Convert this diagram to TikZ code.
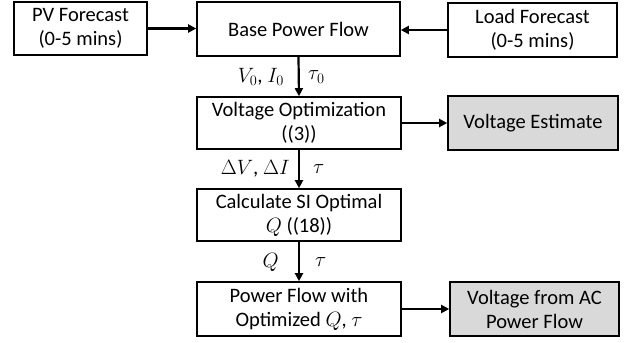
\documentclass[tikz,border=0pt]{standalone}
\usepackage{fontspec}
\setmainfont{Carlito}
\usetikzlibrary{arrows.meta}
\definecolor{boxgray}{HTML}{D9D9D9}
\begin{document}
\begin{tikzpicture}[x=1pt,y=1pt,
  box/.style={draw=black, line width=1.6pt, rectangle, align=center, inner sep=0pt,
    font=\fontsize{20.5}{24}\selectfont},
  graybox/.style={box, fill=boxgray},
  conn/.style={line width=2.2pt, -{Triangle[length=8pt,width=8pt]}},
  lbl/.style={inner sep=0pt, font=\fontsize{21}{24}\selectfont}
]
\useasboundingbox (0,0) rectangle (630,-343);
\node[box, minimum width=133pt, minimum height=53pt] (pv) at (80.5,-28.5) {PV Forecast\\(0-5 mins)};
\node[box, minimum width=203pt, minimum height=54pt] (base) at (298.5,-29) {Base Power Flow};
\node[box, minimum width=169pt, minimum height=54pt] (load) at (532.5,-30) {Load Forecast\\(0-5 mins)};
\node[box, minimum width=204pt, minimum height=52pt] (vo) at (299,-123) {Voltage Optimization\\((3))};
\node[graybox, minimum width=170pt, minimum height=54pt] (ve) at (533,-123) {Voltage Estimate};
\node[box, minimum width=204pt, minimum height=52pt] (calc) at (299,-215) {Calculate SI Optimal\\$Q$ ((18))};
\node[box, minimum width=204pt, minimum height=54pt] (pf) at (299,-309) {Power Flow with\\Optimized $Q$, $\tau$};
\node[graybox, minimum width=169pt, minimum height=54pt] (vac) at (534.5,-309) {Voltage from AC\\Power Flow};

\draw[conn] (pv.east) -- (pv.east -| base.west);
\draw[conn] (load.west) -- (load.west -| base.east);
\draw[conn] (base.south) -- (vo.north);
\draw[conn] (vo.east) -- (vo.east -| ve.west);
\draw[conn] (vo.south) -- (calc.north);
\draw[conn] (calc.south) -- (pf.north);
\draw[conn] (pf.east) -- (pf.east -| vac.west);

\node[lbl, anchor=east] (l1) at (284,-77) {$V_0$, $I_0$};
\node[lbl, anchor=west] (l2) at (308,-77) {$\tau_0$};
\node[lbl, anchor=east] (l3) at (290,-169) {$\Delta V$, $\Delta I$};
\node[lbl, anchor=west] (l4) at (313,-169) {$\tau$};
\node[lbl, anchor=east] (l5) at (279,-262) {$Q$};
\node[lbl, anchor=west] (l6) at (315,-262) {$\tau$};
\end{tikzpicture}
\end{document}
